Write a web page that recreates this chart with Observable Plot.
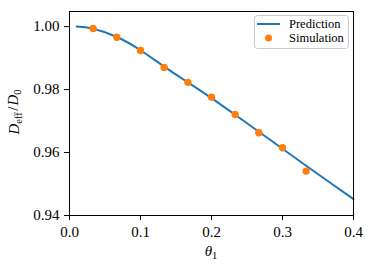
<!DOCTYPE html>
<html><head><meta charset="utf-8">
<script src="https://cdn.jsdelivr.net/npm/d3@7"></script>
<script src="https://cdn.jsdelivr.net/npm/@observablehq/plot@0.6"></script>
<style>body{margin:0;background:#fff}</style>
</head><body><div id="chart"></div>
<script>
// Prediction curve
const predTheta = [0.01, 0.0333, 0.0667, 0.1, 0.1333, 0.1667, 0.2, 0.2333, 0.2667, 0.3, 0.3333, 0.3667, 0.4];
const predValue = [1.0000, 0.9993, 0.9967, 0.9925, 0.9873, 0.9823, 0.9773, 0.9720, 0.9666, 0.9612, 0.9558, 0.9505, 0.9452];
// Simulation points
const simTheta = [0.0333, 0.0667, 0.1, 0.1333, 0.1667, 0.2, 0.2333, 0.2667, 0.3, 0.3333];
const simValue = [0.9994, 0.9966, 0.9924, 0.9870, 0.9823, 0.9776, 0.9721, 0.9663, 0.9615, 0.9541];
const xTicks = [0.0, 0.1, 0.2, 0.3, 0.4];
const yTicks = [0.94, 0.96, 0.98, 1.00];
const seriesNames = ["Prediction", "Simulation"];
const colors = ["#1f77b4", "#ff7f0e"];

const pred = predTheta.map((t, i) => ({theta: t, value: predValue[i]}));
const sim = simTheta.map((t, i) => ({theta: t, value: simValue[i]}));

const font = "'Liberation Serif', 'DejaVu Serif', serif";
const plot = Plot.plot({
  width: 374, height: 269,
  marginLeft: 69, marginRight: 21, marginTop: 11, marginBottom: 54,
  style: {fontFamily: font, fontSize: "15px", background: "white", color: "black"},
  x: {domain: [0, 0.4], ticks: xTicks, tickFormat: d3.format(".1f"), label: null, tickSize: 5, tickPadding: 6},
  y: {domain: [0.94, 1.0048], ticks: yTicks, tickFormat: d3.format(".2f"), label: null, tickSize: 5, tickPadding: 5},
  marks: [
    Plot.line(pred, {x: "theta", y: "value", stroke: colors[0], strokeWidth: 2, curve: "natural"}),
    Plot.dot(sim, {x: "theta", y: "value", fill: colors[1], r: 3.7}),
    Plot.frame({stroke: "black", strokeWidth: 1})
  ]
});
document.getElementById("chart").appendChild(plot);

const svg = d3.select(plot);
// Axis labels
const yl = svg.append("text")
  .attr("transform", "translate(19,112) rotate(-90)")
  .attr("text-anchor", "middle")
  .style("font-family", font).style("font-size", "15px");
yl.append("tspan").style("font-style", "italic").text("D");
yl.append("tspan").attr("dy", "0.3em").style("font-size", "10.5px").text("eff");
yl.append("tspan").attr("dy", "-0.3em").attr("dx", "1.5").style("font-size", "15px").text("/");
yl.append("tspan").attr("dx", "1").style("font-style", "italic").text("D");
yl.append("tspan").attr("dy", "0.3em").style("font-size", "10.5px").text("0");

const xl = svg.append("text")
  .attr("x", 211).attr("y", 256)
  .attr("text-anchor", "middle")
  .style("font-family", font).style("font-size", "15px");
xl.append("tspan").style("font-style", "italic").text("θ");
xl.append("tspan").attr("dy", "0.3em").style("font-size", "10.5px").text("1");

// Legend
const lg = svg.append("g").style("font-family", font).style("font-size", "12.5px").attr("text-anchor", "start");
lg.append("rect").attr("x", 254.5).attr("y", 15.5).attr("width", 94).attr("height", 33)
  .attr("rx", 3).attr("fill", "white").attr("fill-opacity", 0.8).attr("stroke", "#cccccc");
lg.append("line").attr("x1", 257).attr("x2", 280).attr("y1", 24).attr("y2", 24)
  .attr("stroke", colors[0]).attr("stroke-width", 2);
lg.append("circle").attr("cx", 268.5).attr("cy", 38).attr("r", 3.5).attr("fill", colors[1]);
lg.append("text").attr("x", 289).attr("y", 28).attr("text-anchor", "start").text(seriesNames[0]);
lg.append("text").attr("x", 289).attr("y", 42).attr("text-anchor", "start").text(seriesNames[1]);
</script>
</body></html>
